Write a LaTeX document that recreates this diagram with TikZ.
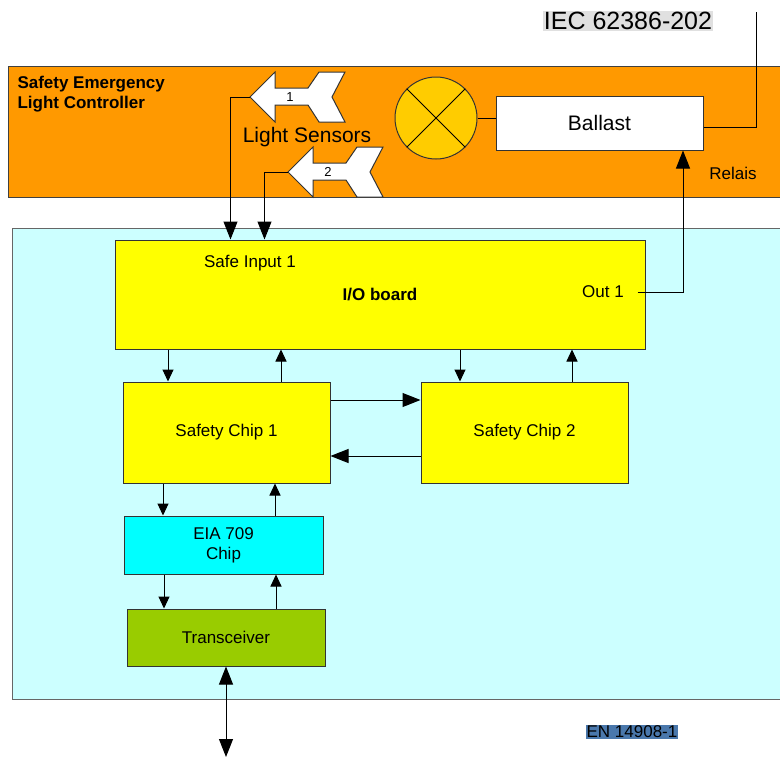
\documentclass[tikz,border=0pt]{standalone}
\usepackage{fontspec}
\setmainfont{Liberation Sans}
\usetikzlibrary{arrows.meta,positioning}

\definecolor{ctrlorange}{HTML}{FF9900}
\definecolor{boardcyan}{HTML}{CCFFFF}
\definecolor{chipyellow}{HTML}{FFFF00}
\definecolor{eiacyan}{HTML}{00FFFF}
\definecolor{trxgreen}{HTML}{99CC00}
\definecolor{lampgold}{HTML}{FFCC00}
\definecolor{enblue}{HTML}{4A78AC}

\tikzset{
  block/.style={draw=black!80, line width=1pt, inner sep=0pt},
  sm/.style={-{Triangle[length=12pt,width=11pt]}},
  lg/.style={-{Triangle[length=18pt,width=14pt]}},
}

\begin{document}
\begin{tikzpicture}[x=1pt,y=-1pt,line width=1pt,font=\fontsize{17}{20}\selectfont]
    \clip (0,0) rectangle (780,758);

    % housings
    \draw[fill=ctrlorange, draw=black!75] (8,66) rectangle (800,197);
    \draw[fill=boardcyan, draw=black!60] (12,228) rectangle (800,699);

    \node[anchor=west, align=left, inner sep=0pt, font=\fontsize{17}{20}\selectfont\bfseries] (title) at (17,94) {Safety Emergency\\Light Controller};

    % light sensors
    \coordinate (s1) at (250,97);
    \coordinate (s2) at (288,172);
    \foreach \n in {1,2} {
      \draw[fill=white, draw=black!80] (s\n) -- ++(25,-25) -- ++(0,16) -- ++(33,0) -- ++(11,-16) -- ++(26,0)
        -- ++(-13,25) -- ++(13,25) -- ++(-26,0) -- ++(-11,-17) -- ++(-33,0) -- ++(0,17) -- cycle;
      \node[font=\fontsize{13}{15}\selectfont] (num\n) at ([xshift=40pt]s\n) {\n};
    }
    \node[font=\fontsize{21}{24}\selectfont] (sensors) at (307,137) {Light Sensors};

    % lamp and ballast
    \node[circle, draw=black!80, fill=lampgold, minimum size=82pt, inner sep=0pt] (lamp) at (436,118) {};
    \draw (lamp.north west) -- (lamp.south east);
    \draw (lamp.north east) -- (lamp.south west);
    \node[block, fill=white, minimum width=207pt, minimum height=54pt, font=\fontsize{21}{24}\selectfont] (ballast) at (599.5,123) {Ballast};
    \draw (lamp.east) -- (lamp.east -| ballast.west);
    \coordinate (bus) at (756,12);
    \draw ([yshift=-4pt]ballast.east) -| (bus);
    \node[fill=black!12, inner sep=1pt, font=\fontsize{25}{28}\selectfont] (iec) at (628,21) {IEC 62386-202};
    \node (relais) at (733,173) {Relais};

    % board
    \node[block, fill=chipyellow, minimum width=530pt, minimum height=109pt, font=\fontsize{17}{20}\selectfont\bfseries] (io) at (380,294.5) {I/O board};
    \node (safein) at (250,263) {Safe Input 1};
    \node (out1) at (603,292) {Out 1};
    \node[block, fill=chipyellow, minimum width=207pt, minimum height=101pt] (chipA) at (226.5,432.5) {Safety Chip 1};
    \node[block, fill=chipyellow, minimum width=207pt, minimum height=101pt] (chipB) at (524.5,432.5) {Safety Chip 2};
    \node[block, fill=eiacyan, minimum width=199pt, minimum height=58pt, align=center] (eia) at (223.5,545) {EIA 709\\Chip};
    \node[block, fill=trxgreen, minimum width=198pt, minimum height=57pt] (trx) at (226,637.5) {Transceiver};
    \node[fill=enblue, inner sep=1pt] (en) at (632,732) {EN 14908-1};

    % connectors
    \draw[lg] (s1) -| ([xshift=116pt]io.north west);
    \draw[lg] (s2) -| ([xshift=150pt]io.north west);
    \draw[lg] ([xshift=10pt]out1.east) -| ([xshift=83.5pt]ballast.south);

    \foreach \x/\c in {168/chipA,460/chipB} \draw[sm] (io.south -| \x,0) -- (\c.north -| \x,0);
    \foreach \x/\c in {281/chipA,572/chipB} \draw[sm] (\c.north -| \x,0) -- (io.south -| \x,0);

    \draw[lg] (chipA.east |- 0,400) -- (chipB.west |- 0,400);
    \draw[lg] (chipB.west |- 0,456) -- (chipA.east |- 0,456);

    \draw[sm] (chipA.south -| 163,0) -- (eia.north -| 163,0);
    \draw[sm] (eia.north -| 275,0) -- (chipA.south -| 275,0);
    \draw[sm] (eia.south -| 164,0) -- (trx.north -| 164,0);
    \draw[sm] (trx.north -| 276,0) -- (eia.south -| 276,0);

    \coordinate (bus2) at (226,757);
    \draw[{Triangle[length=18pt,width=14pt]}-{Triangle[length=18pt,width=14pt]}] (trx.south) -- (bus2);
\end{tikzpicture}
\end{document}
